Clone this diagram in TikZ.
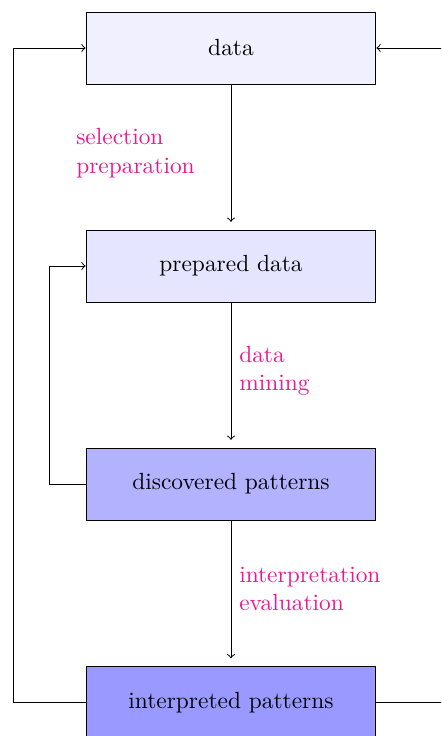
\documentclass[tikz,border=0pt]{standalone}
\usetikzlibrary{positioning}
\definecolor{lblcol}{RGB}{235,25,145}
\tikzset{
  box/.style={draw, rectangle, minimum width=123.9pt, minimum height=30.8pt, inner sep=0pt},
  lbl/.style={text=lblcol, align=left},
  flow/.style={->}
}
\begin{document}
\begin{tikzpicture}[x=0.4274pt, y=-0.4274pt]
\useasboundingbox (0,0) rectangle (441,736);
\clip (0,0) rectangle (441,736);
\node[box, fill=blue!6]  (data) at (231,48)  {data};
\node[box, fill=blue!10] (prep) at (231,266) {prepared data};
\node[box, fill=blue!30] (disc) at (231,484) {discovered patterns};
\node[box, fill=blue!40] (intp) at (231,702.5) {interpreted patterns};
\coordinate (leftloop) at (13,0);
\coordinate (innerloop) at (49,0);
\coordinate (rightloop) at (470,0);
\draw[flow] (data.south) -- node[lbl, left, text width=2.2cm] {selection\\preparation} ([yshift=3.3pt]prep.north);
\draw[flow] (prep.south) -- node[lbl, right] {data\\mining} ([yshift=3.3pt]disc.north);
\draw[flow] (disc.south) -- node[lbl, right] {interpretation\\evaluation} ([yshift=3.3pt]intp.north);
\draw[flow] (disc.west) -- (disc.west -| innerloop) |- (prep.west);
\draw[flow] (intp.west) -- (intp.west -| leftloop) |- (data.west);
\draw[flow] (intp.east) -- (intp.east -| rightloop) |- (data.east);
\end{tikzpicture}
\end{document}
